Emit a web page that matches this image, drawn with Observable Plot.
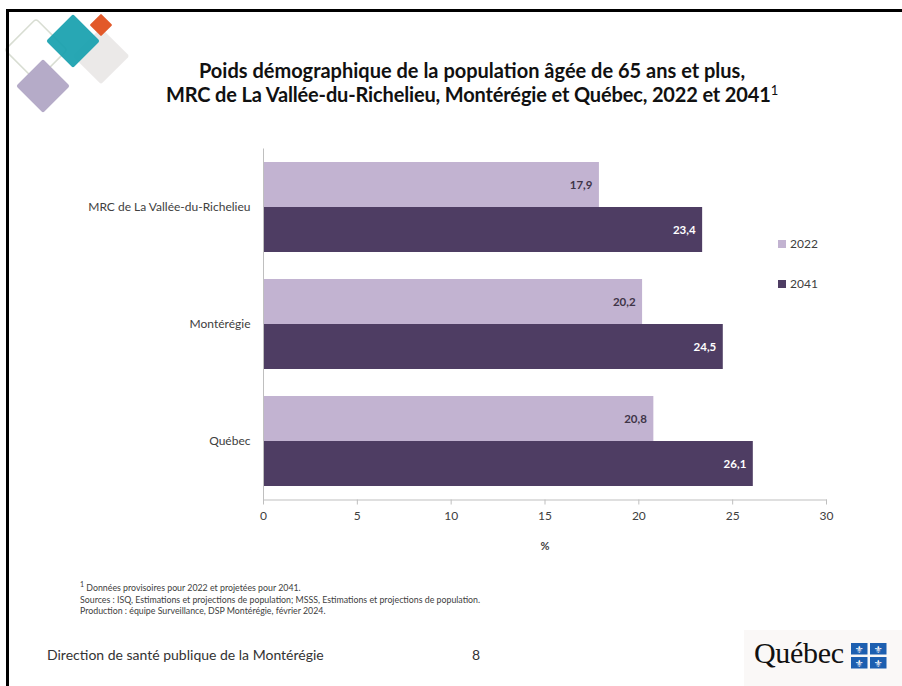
<!DOCTYPE html>
<html><head><meta charset="utf-8">
<script src="https://cdn.jsdelivr.net/npm/d3@7"></script>
<script src="https://cdn.jsdelivr.net/npm/@observablehq/plot@0.6"></script>
<style>
body{margin:0;background:#fff;font-family:Lato,"Open Sans",sans-serif;}
#page{position:relative;width:902px;height:686px;overflow:hidden;background:#fff;}
#bleft{position:absolute;left:6px;top:9px;width:3px;height:690px;background:#000;}
#btop{position:absolute;left:6px;top:9px;width:900px;height:2.5px;background:#000;}
#chart{position:absolute;left:0;top:0;}
.title{position:absolute;left:0;width:944px;text-align:center;font-weight:bold;font-size:20px;color:#111;line-height:24px;}
.leg{position:absolute;left:778px;font-size:12px;color:#404040;display:flex;align-items:center;}
.leg span.sw{display:inline-block;width:8px;height:8px;margin-right:4px;}
.foot{position:absolute;left:80px;font-size:8.8px;color:#404040;line-height:11.5px;}
.footer{position:absolute;font-size:14px;color:#333;}
</style></head>
<body>
<div id="page">
  <svg id="logo" width="160" height="130" style="position:absolute;left:0;top:0">
    <rect x="-22" y="-22" width="44" height="44" rx="3" transform="translate(36,50) rotate(45)" fill="none" stroke="#d8ddd2" stroke-width="1.5"/>
    <rect x="-20" y="-20" width="40" height="40" rx="2" transform="translate(101,56) rotate(45)" fill="#ebe9e8"/>
    <rect x="-19" y="-19" width="38" height="38" rx="2" transform="translate(73,41) rotate(45)" fill="#16a0ae" opacity="0.92"/>
    <rect x="-19" y="-19" width="38" height="38" rx="2" transform="translate(43,86) rotate(45)" fill="#b5abc8"/>
    <rect x="-8" y="-8" width="16" height="16" rx="1" transform="translate(101,25) rotate(45)" fill="#e2592a"/>
  </svg>
  <div id="bleft"></div><div id="btop"></div>
  <div class="title" style="top:58px">Poids démographique de la population âgée de 65 ans et plus,</div>
  <div class="title" style="top:82px;letter-spacing:-0.15px">MRC de La Vallée-du-Richelieu, Montérégie et Québec, 2022 et 2041<sup style="font-size:13px;font-weight:normal;vertical-align:7px;line-height:0">1</sup></div>
  <div id="chart"></div>
  <div class="leg" style="top:236px"><span class="sw" style="background:#c2b3d1"></span>2022</div>
  <div class="leg" style="top:276px"><span class="sw" style="background:#4e3d63"></span>2041</div>
  <div class="foot" style="top:582px"><sup style="font-size:7px;line-height:0">1</sup> Données provisoires pour 2022 et projetées pour 2041.<br>Sources : ISQ, Estimations et projections de population; MSSS, Estimations et projections de population.<br>Production : équipe Surveillance, DSP Montérégie, février 2024.</div>
  <div class="footer" style="left:47px;top:646px">Direction de santé publique de la Montérégie</div>
  <div class="footer" style="left:472px;top:646px">8</div>
  <div style="position:absolute;left:744px;top:630px;width:158px;height:56px;background:#faf8f7"></div>
  <div style="position:absolute;left:754px;top:636px;font-family:'Liberation Serif','DejaVu Serif',serif;font-size:30px;color:#111;letter-spacing:-0.3px">Québec</div>
  <svg width="36" height="26" style="position:absolute;left:851px;top:643px">
    <rect x="0" y="0" width="16.5" height="11.5" fill="#1d5fb0"/>
    <rect x="19" y="0" width="16.5" height="11.5" fill="#1d5fb0"/>
    <rect x="0" y="14" width="16.5" height="11.5" fill="#1d5fb0"/>
    <rect x="19" y="14" width="16.5" height="11.5" fill="#1d5fb0"/>
    <g fill="#fff" font-family="DejaVu Sans" font-size="10" text-anchor="middle">
      <text x="8.2" y="9.5">⚜</text><text x="27.2" y="9.5">⚜</text>
      <text x="8.2" y="23.5">⚜</text><text x="27.2" y="23.5">⚜</text>
    </g>
  </svg>
</div>
<script>
const regions = ["MRC de La Vallée-du-Richelieu", "Montérégie", "Québec"];
const years = ["2022", "2041"];
const values2022 = [17.9, 20.2, 20.8];
const values2041 = [23.4, 24.5, 26.1];
const xTicks = [0, 5, 10, 15, 20, 25, 30];
const colors = ["#c2b3d1", "#4e3d63"];

const data = regions.flatMap((r, i) => [
  {region: r, year: years[0], value: values2022[i]},
  {region: r, year: years[1], value: values2041[i]}
]);
const fmt = v => v.toFixed(1).replace(".", ",");
const d22 = data.filter(d => d.year === years[0]);
const d41 = data.filter(d => d.year === years[1]);

const chart = Plot.plot({
  width: 902, height: 686,
  marginTop: 148.5, marginBottom: 186.5, marginLeft: 263, marginRight: 76,
  style: {fontFamily: "Lato, 'Open Sans', sans-serif", fontSize: "12px", background: "transparent"},
  x: {domain: [0, 30], axis: null},
  y: {domain: regions, paddingInner: 27/117, paddingOuter: 13.5/117, align: 0.5, axis: null},
  color: {domain: years, range: colors},
  marks: [
    Plot.barX(d22, {x: "value", y: "region", fill: "year", insetBottom: 45}),
    Plot.barX(d41, {x: "value", y: "region", fill: "year", insetTop: 45}),
    Plot.text(d22, {x: "value", y: "region", dy: -22.5, dx: -7, text: d => fmt(d.value), textAnchor: "end", fill: "#3f3548", fontWeight: "bold", fontSize: 11.5}),
    Plot.text(d41, {x: "value", y: "region", dy: 22.5, dx: -7, text: d => fmt(d.value), textAnchor: "end", fill: "#ffffff", fontWeight: "bold", fontSize: 11.5}),
    Plot.frame({anchor: "bottom", stroke: "#bfbfbf"}),
    Plot.frame({anchor: "left", stroke: "#bfbfbf"}),
    Plot.axisX({ticks: xTicks, tickSize: 5, tickPadding: 6, stroke: "#bfbfbf", fill: "#404040", label: null, tickFormat: d => String(d)}),
    Plot.axisX({anchor: "bottom", ticks: [], label: "%", labelAnchor: "center", labelOffset: 50, labelArrow: "none", fontWeight: "bold", fontSize: 11, fill: "#404040"}),
    Plot.axisY({tickSize: 0, tickPadding: 13, fill: "#404040", label: null})
  ]
});
document.getElementById("chart").appendChild(chart);
</script>
</body></html>
